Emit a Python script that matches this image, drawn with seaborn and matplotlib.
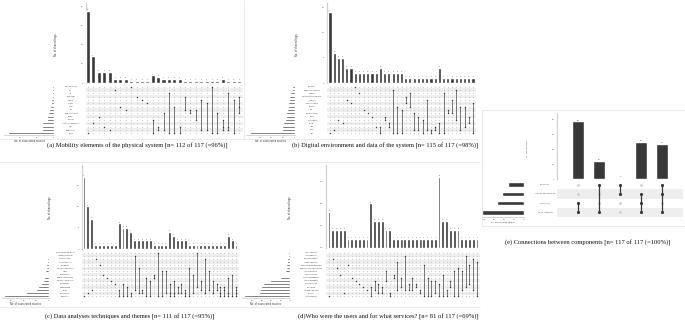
import matplotlib
matplotlib.use("Agg")
import numpy as np
import pandas as pd
import seaborn as sns
import matplotlib.pyplot as plt
from matplotlib.lines import Line2D
from matplotlib.transforms import blended_transform_factory

sns.set_style("white")

# ---------------- data ----------------
A_sets = ["parking spaces", "taxi", "AV", "bus stops", "cyclists", "railway", "roads", "bus",
          "public transport", "freight", "vehicles", "individual movement", "cars", "pedestrians", "traffic"]
A_sizes = [2, 3, 3, 3, 4, 4, 5, 6, 7, 8, 8, 15, 15, 15, 55]
A_counts = [38, 14, 6, 6, 6, 2, 2, 2, 1, 1, 1, 1, 4, 3, 2, 2, 2, 2, 1, 1, 1, 1, 1, 1, 1, 2, 1, 1, 1]
A_members = [[14], [11], [9], [12], [13], [1], [6], [7], [0], [3], [4], [5], [10, 14], [12, 13],
             [8, 13], [2, 14], [6, 14], [12, 14], [3, 7], [7, 8], [7, 10], [4, 13], [5, 13], [0, 14],
             [8, 14], [10, 12, 13], [2, 12, 13], [4, 14], [3, 6, 8]]

B_sets = ["trajectory", "open data platform", "network", "naturalistic driving data", "(big) OD",
          "cellphone data", "MATSim", "GPS", "OpenStreetMap", "LiDAR", "video data", "VISSIM",
          "BIM", "SUMO", "GIS"]
B_sizes = [3, 3, 4, 5, 5, 6, 6, 7, 8, 8, 9, 10, 11, 11, 39]
B_counts = [14, 6, 5, 5, 3, 3, 2, 2, 2, 2, 2, 2, 3, 2, 2, 2, 2, 2, 1, 1, 1, 1, 1, 1, 1, 1, 3,
            1, 1, 1, 1, 1, 1, 1, 1]
B_members = [[14], [13], [10], [11], [4], [5], [0], [2], [7], [8], [9], [12], [12, 14], [9, 10],
             [11, 12], [1, 14], [6, 14], [7, 14], [3, 5], [2, 6], [8, 13], [9, 13], [10, 14],
             [4, 13], [13, 14], [12, 13], [11, 14], [2, 14], [7, 8], [4, 8], [1, 10], [6, 13],
             [6, 12], [9, 11], [5, 14]]

C_sets = ["driver behaviour model", "image processing", "synthetic data", "trip distribution",
          "walkability", "emission calculation", "safety", "optimization", "demand estimation",
          "emission estimation", "macroscopic", "agent based", "ML_DL", "visualization", "simulation"]
C_sizes = [2, 2, 3, 3, 4, 5, 6, 7, 8, 10, 13, 18, 21, 37, 72]
C_counts = [17, 10, 7, 1, 1, 1, 1, 1, 1, 6, 5, 5, 4, 2, 2, 2, 2, 2, 1, 1, 1, 1, 4, 3, 2, 2, 2,
            1, 1, 1, 1, 1, 1, 1, 1, 1, 1, 3, 2, 1]
C_members = [[14], [13], [12], [2], [4], [7], [8], [9], [10], [12, 14], [10, 14], [11, 14],
             [13, 14], [1, 12], [5, 13], [12, 13], [8, 14], [9, 14], [7, 8], [0, 14], [6, 14],
             [6, 13], [10, 13, 14], [9, 13, 14], [11, 13], [10, 13], [12, 13, 14], [5, 14],
             [7, 13], [0, 11], [9, 12], [2, 13], [6, 12], [9, 13], [10, 12], [11, 13, 14],
             [11, 12, 14], [8, 13, 14], [7, 14], [11, 12, 13, 14]]

D_sets = ["city authorities", "route planning", "decision support", "freight operators",
          "operational management", "public transport authorities", "traffic operators",
          "safety analysis", "traffic management", "traffic managers", "urban planning",
          "monitoring", "transport planners", "planners", "future mobility"]
D_sizes = [2, 2, 3, 3, 4, 4, 5, 9, 11, 21, 29, 31, 32, 33, 49]
D_counts = [4, 2, 2, 2, 2, 1, 1, 1, 1, 1, 1, 5, 3, 3, 3, 2, 2, 1, 1, 1, 1, 1, 1, 1, 1, 1, 1,
            1, 1, 8, 3, 3, 2, 2, 2, 1, 1, 1, 1, 1]
D_members = [[14], [2], [5], [7], [13], [4], [8], [9], [10], [11], [12], [11, 14], [9, 12],
             [10, 13], [11, 13], [6, 9], [13, 14], [7, 8], [3, 12], [8, 11], [1, 12], [10, 12],
             [8, 12], [10, 11], [12, 13], [4, 14], [8, 14], [9, 14], [9, 13], [10, 14], [7, 14],
             [12, 14], [9, 11], [6, 14], [5, 14], [6, 12], [1, 11], [4, 10], [2, 12], [3, 14]]

E_sets = ["bidirectional", "real time data connection", "unidirectional", "no link to physical"]
E_sizes = [40, 54, 68, 104]
E_counts = [39, 12, 1, 25, 24]
E_members = [[2, 3], [0, 3], [0, 1], [1, 2, 3], [0, 1, 3]]

captions = [
    "(a) Mobility elements of the physical system [n= 112 of 117 (=96%)]",
    "(b) Digital environment and data of the system [n= 115 of 117 (=98%)]",
    "(c) Data analyses techniques and themes [n= 111 of 117 (=95%)]",
    "(d)Who were the users and for what services? [n= 81 of 117 (=69%)]",
    "(e) Connections between components [n= 117 of 117 (=100%)]",
]

# ---------------- layout ----------------
W, H = 685, 323
fig = plt.figure(figsize=(W / 100, H / 100), dpi=100)
DARK = "#383838"


def ax_at(x0, y0, x1, y1):
    return fig.add_axes([x0 / W, 1 - y1 / H, (x1 - x0) / W, (y1 - y0) / H])


def upset(sets, sizes, counts, members, P):
    n, m = len(counts), len(sets)
    unit = (P["l"] - P["f"]) / (n - 1)
    xlo = -(P["f"] - P["bx0"]) / unit
    xhi = (n - 1) + (P["bx1"] - P["l"]) / unit

    # intersection bars
    axb = ax_at(P["bx0"], P["btop"], P["bx1"], P["bbot"])
    df = pd.DataFrame({"i": [str(k) for k in range(n)], "c": counts})
    sns.barplot(data=df, x="i", y="c", color=DARK, width=P["bw"], ax=axb, saturation=1, zorder=3)
    axb.bar_label(axb.containers[0], fontsize=P["fnum"], padding=0.6, color="#444444")
    axb.set_xlim(xlo, xhi)
    axb.set_ylim(*P["ylim"])
    axb.set_yticks(P["yticks"])
    axb.set_yticklabels([P["yfmt"].format(v) for v in P["yticks"]], fontsize=P["ftick"], color="#555555")
    axb.set_xticks([])
    axb.set_xlabel("")
    axb.set_ylabel("")
    for s in ["top", "right", "bottom"]:
        axb.spines[s].set_visible(False)
    axb.spines["left"].set_color("#d0d0d0")
    axb.spines["left"].set_linewidth(0.9)
    axb.spines["left"].set_zorder(0.5)
    axb.tick_params(axis="y", length=1, width=0.3, pad=0.8, color="#aaaaaa")
    fig.text(P["ylab"][0] / W, 1 - P["ylab"][1] / H, "No. of shared tags", rotation=90,
             fontsize=P["ftitle"], ha="center", va="center", color="#333333")

    # matrix
    axm = ax_at(P["bx0"], P["mtop"], P["bx1"], P["mbot"])
    for r in range(m):
        if r % 2 == 1:
            axm.axhspan(r - 0.5, r + 0.5, color="#eeeeee", lw=0, zorder=0)
    gx, gy = np.meshgrid(np.arange(n), np.arange(m))
    grid = pd.DataFrame({"x": gx.ravel(), "y": gy.ravel()})
    sns.scatterplot(data=grid, x="x", y="y", color="#cfcfcf", s=P["ds"] * 0.8, linewidth=0,
                    ax=axm, zorder=1, legend=False)
    rows = [(k, r) for k, mem in enumerate(members) for r in mem]
    fd = pd.DataFrame(rows, columns=["x", "y"])
    for k, mem in enumerate(members):
        if len(mem) > 1:
            axm.vlines(k, min(mem), max(mem), color=DARK, lw=P["lw"], zorder=2)
    sns.scatterplot(data=fd, x="x", y="y", color=DARK, s=P["ds"], linewidth=0, ax=axm,
                    zorder=3, legend=False)
    axm.set_xlim(xlo, xhi)
    axm.set_ylim(m - 0.5, -0.5)
    axm.set_axis_off()
    tr = blended_transform_factory(fig.transFigure, axm.transData)
    for r, name in enumerate(sets):
        axm.text(P["labx"] / W, r, name, transform=tr, ha="center", va="center",
                 fontsize=P["flab"], color="#333333")

    # set sizes
    axs = ax_at(P["sx0"], P["mtop"], P["sx1"], P["mbot"])
    sdf = pd.DataFrame({"set": sets, "size": sizes})
    sns.barplot(data=sdf, y="set", x="size", orient="h", color=DARK, width=P["sw"], ax=axs,
                saturation=1)
    axs.set_ylim(m - 0.5, -0.5)
    axs.set_xlim(*P["sxlim"])
    axs.set_xticks(P["sticks"])
    axs.set_xticklabels([str(v) for v in P["sticks"]], fontsize=P["ftick"], color="#555555")
    axs.set_yticks([])
    axs.set_ylabel("")
    axs.set_xlabel("No. of associated studies", fontsize=P["ftitle"], labelpad=0.8, color="#333333")
    for s in ["top", "right", "left"]:
        axs.spines[s].set_visible(False)
    axs.spines["bottom"].set_color("#d0d0d0")
    axs.spines["bottom"].set_linewidth(0.6)
    axs.tick_params(axis="x", length=1, width=0.3, pad=0.6, color="#aaaaaa")

    fig.text(P["cap"][0] / W, 1 - P["cap"][1] / H, P["caption"], ha="center", va="center",
             fontsize=4.7, family="Liberation Serif", color="#111111")


common = dict(bw=0.75, sw=0.62, ds=1.1, lw=0.45, fnum=1.3, ftick=1.5, ftitle=1.8, flab=1.15,
              yfmt="{:g}")

PA = dict(common, bx0=86, bx1=243, btop=3, bbot=83, mtop=85, mbot=135, sx0=4, sx1=54,
          f=88, l=239, ylim=(0, 42), yticks=[0, 10, 20, 30, 40], sxlim=(60, 0),
          sticks=[40, 20, 0], labx=71, ylab=(56, 45), cap=(137, 146), caption=captions[0])
PB = dict(common, bx0=327, bx1=476, btop=3, bbot=83, mtop=85, mbot=135, sx0=246, sx1=295,
          f=330, l=473, ylim=(0, 15.8), yticks=[0, 5, 10, 15], sxlim=(42, 0),
          sticks=[30, 20, 10, 0], labx=312, ylab=(297, 45), cap=(385, 146), caption=captions[1])
PC = dict(common, bx0=82, bx1=239, btop=165, bbot=249, mtop=251, mbot=298, sx0=2, sx1=49,
          f=84, l=236, ylim=(0, 19.7), yticks=[0, 5, 10, 15], sxlim=(75, 0),
          sticks=[60, 40, 20, 0], labx=65, ylab=(50, 208), cap=(130, 317), caption=captions[2])
PD = dict(common, bx0=326, bx1=480, btop=165, bbot=248, mtop=251, mbot=298, sx0=242, sx1=290,
          f=329, l=477, ylim=(0, 9.3), yticks=[0, 2.5, 5, 7.5], yfmt="{:.1f}", sxlim=(51, 0),
          sticks=[40, 30, 20, 10, 0], labx=311, ylab=(290, 208), cap=(388, 317),
          caption=captions[3])
PE = dict(common, bw=0.57, sw=0.5, ds=5.0, lw=0.9, fnum=1.5, ftitle=1.4, flab=1.15,
          bx0=557, bx1=683, btop=113, bbot=179, mtop=180, mbot=217, sx0=482, sx1=524,
          f=578, l=662, ylim=(0, 44.7), yticks=[0, 10, 20, 30, 40], sxlim=(105, 0),
          sticks=[100, 75, 50, 25, 0], labx=545, ylab=(527, 148), cap=(588, 243),
          caption=captions[4])

upset(A_sets, A_sizes, A_counts, A_members, PA)
upset(B_sets, B_sizes, B_counts, B_members, PB)
upset(C_sets, C_sizes, C_counts, C_members, PC)
upset(D_sets, D_sizes, D_counts, D_members, PD)
upset(E_sets, E_sizes, E_counts, E_members, PE)

# faint panel frames
frame = [((244, 0), (244, 139)), ((0, 139), (478, 139)), ((0, 162), (480, 162)),
         ((0, 307), (480, 307)), ((482, 110), (685, 110)), ((482, 226), (685, 226)),
         ((482, 110), (482, 226))]
for (x0, y0), (x1, y1) in frame:
    fig.add_artist(Line2D([x0 / W, x1 / W], [1 - y0 / H, 1 - y1 / H], color="#e6e6e6", lw=0.6,
                          transform=fig.transFigure))

fig.savefig("out.png", dpi=100)
